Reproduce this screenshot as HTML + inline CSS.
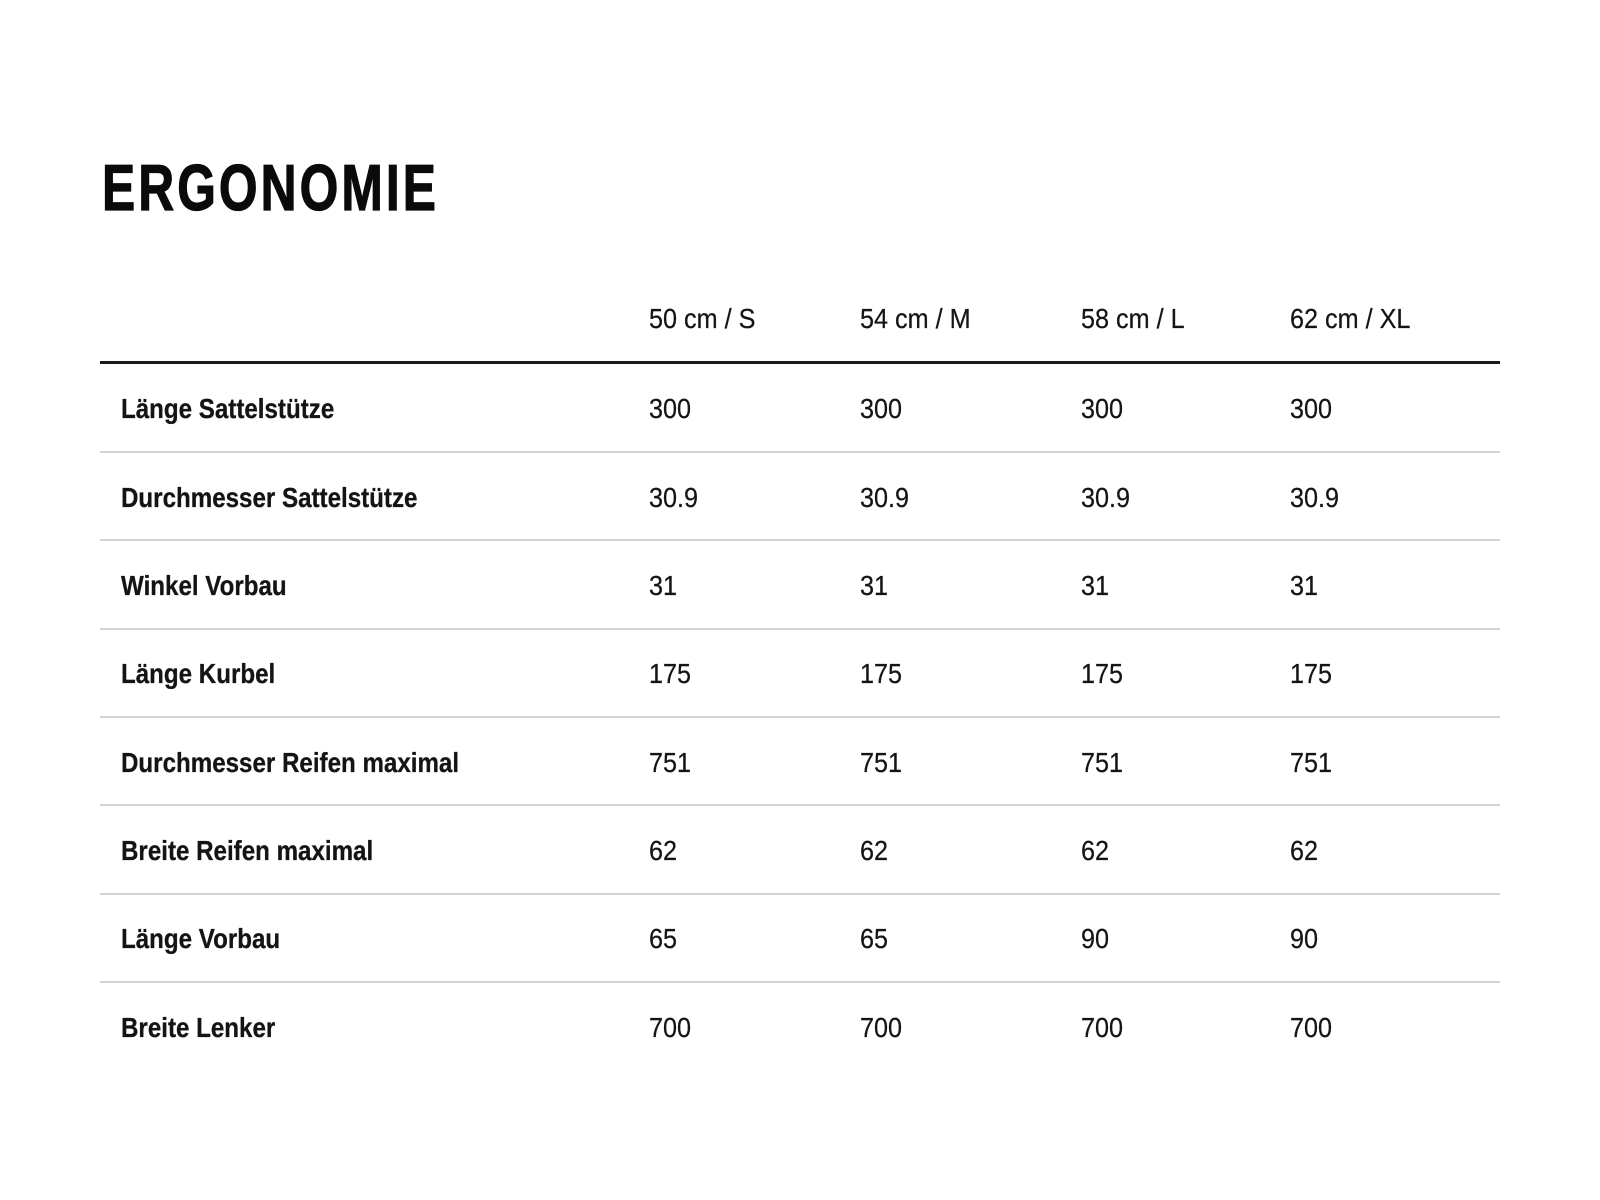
<!DOCTYPE html>
<html>
<head>
<meta charset="utf-8">
<style>
  html, body { margin:0; padding:0; background:#fff; }
  body { width:1600px; height:1200px; position:relative; overflow:hidden;
         font-family:"Liberation Sans", Arial, sans-serif; color:#111; }
  .t { position:absolute; white-space:nowrap; transform-origin:0 0; }
  .title { left:102px; top:155px; font-size:65px; line-height:65px; font-weight:bold;
           letter-spacing:4px; transform:scaleX(0.765); color:#0a0a0a;
           -webkit-text-stroke:1.2px #0a0a0a; }
  .h { font-size:28px; line-height:28px; top:305px; transform:scaleX(0.9); color:#151515; -webkit-text-stroke:0.25px #151515; }
  .lab { font-size:28px; line-height:28px; font-weight:bold; left:121px; transform:scaleX(0.862); color:#141414; -webkit-text-stroke:0.3px #141414; }
  .v { font-size:28px; line-height:28px; transform:scaleX(0.9); color:#151515; -webkit-text-stroke:0.25px #151515; }
  .c1 { left:649px; } .c2 { left:860px; } .c3 { left:1081px; } .c4 { left:1290px; }
  .thick { position:absolute; left:100px; width:1400px; top:361px; height:3px; background:#1a1a1a; }
  .thin { position:absolute; left:100px; width:1400px; height:2px; background:#d2d5d8; }
</style>
</head>
<body>
  <div class="t title">ERGONOMIE</div>

  <div class="t h c1">50 cm / S</div>
  <div class="t h c2">54 cm / M</div>
  <div class="t h c3">58 cm / L</div>
  <div class="t h c4">62 cm / XL</div>

  <div class="thick"></div>

  <div class="thin" style="top:451px"></div>
  <div class="thin" style="top:539px"></div>
  <div class="thin" style="top:628px"></div>
  <div class="thin" style="top:716px"></div>
  <div class="thin" style="top:804px"></div>
  <div class="thin" style="top:893px"></div>
  <div class="thin" style="top:981px"></div>

  <!-- Row 1 -->
  <div class="t lab" style="top:395px">Länge Sattelstütze</div>
  <div class="t v c1" style="top:395px">300</div>
  <div class="t v c2" style="top:395px">300</div>
  <div class="t v c3" style="top:395px">300</div>
  <div class="t v c4" style="top:395px">300</div>

  <!-- Row 2 -->
  <div class="t lab" style="top:484px">Durchmesser Sattelstütze</div>
  <div class="t v c1" style="top:484px">30.9</div>
  <div class="t v c2" style="top:484px">30.9</div>
  <div class="t v c3" style="top:484px">30.9</div>
  <div class="t v c4" style="top:484px">30.9</div>

  <!-- Row 3 -->
  <div class="t lab" style="top:572px">Winkel Vorbau</div>
  <div class="t v c1" style="top:572px">31</div>
  <div class="t v c2" style="top:572px">31</div>
  <div class="t v c3" style="top:572px">31</div>
  <div class="t v c4" style="top:572px">31</div>

  <!-- Row 4 -->
  <div class="t lab" style="top:660px">Länge Kurbel</div>
  <div class="t v c1" style="top:660px">175</div>
  <div class="t v c2" style="top:660px">175</div>
  <div class="t v c3" style="top:660px">175</div>
  <div class="t v c4" style="top:660px">175</div>

  <!-- Row 5 -->
  <div class="t lab" style="top:749px">Durchmesser Reifen maximal</div>
  <div class="t v c1" style="top:749px">751</div>
  <div class="t v c2" style="top:749px">751</div>
  <div class="t v c3" style="top:749px">751</div>
  <div class="t v c4" style="top:749px">751</div>

  <!-- Row 6 -->
  <div class="t lab" style="top:837px">Breite Reifen maximal</div>
  <div class="t v c1" style="top:837px">62</div>
  <div class="t v c2" style="top:837px">62</div>
  <div class="t v c3" style="top:837px">62</div>
  <div class="t v c4" style="top:837px">62</div>

  <!-- Row 7 -->
  <div class="t lab" style="top:925px">Länge Vorbau</div>
  <div class="t v c1" style="top:925px">65</div>
  <div class="t v c2" style="top:925px">65</div>
  <div class="t v c3" style="top:925px">90</div>
  <div class="t v c4" style="top:925px">90</div>

  <!-- Row 8 -->
  <div class="t lab" style="top:1014px">Breite Lenker</div>
  <div class="t v c1" style="top:1014px">700</div>
  <div class="t v c2" style="top:1014px">700</div>
  <div class="t v c3" style="top:1014px">700</div>
  <div class="t v c4" style="top:1014px">700</div>
</body>
</html>
